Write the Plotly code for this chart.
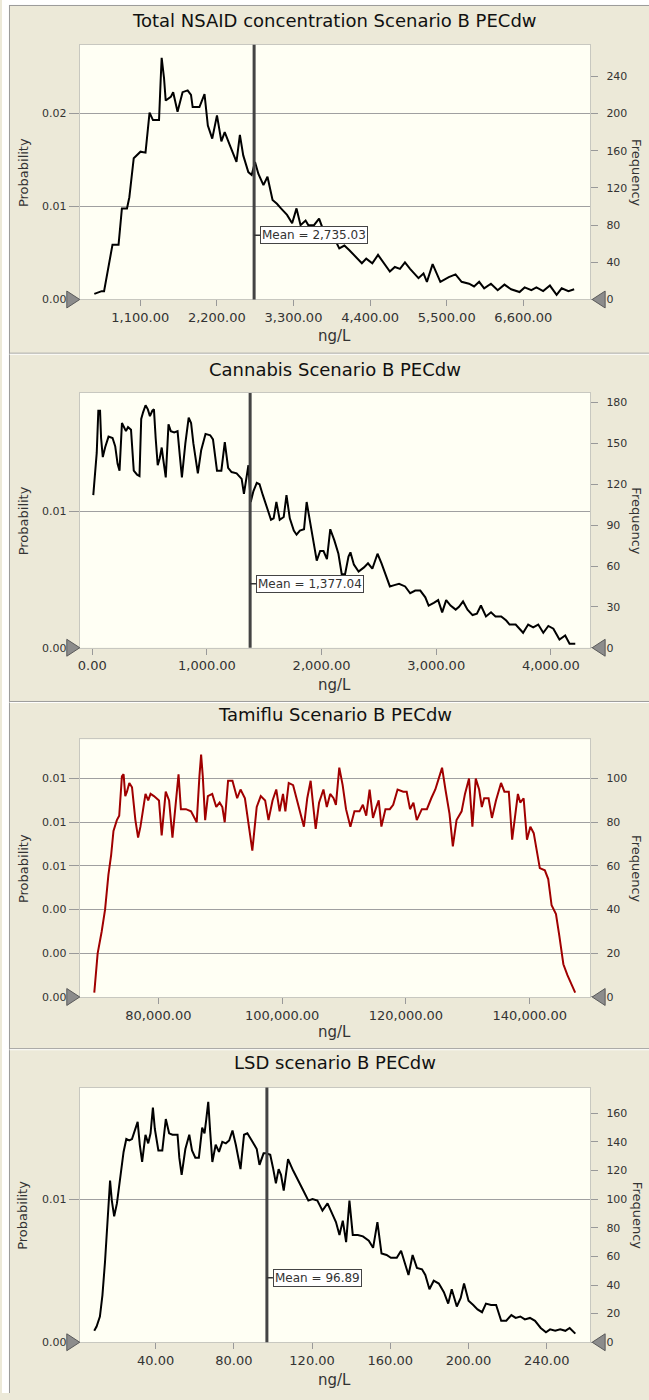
import plotly.graph_objects as go

# ---------------- data ----------------
nsaid_x = [441, 547, 581, 644, 702, 789, 837, 910, 944, 1007, 1104, 1176, 1234, 1283, 1370, 1394, 1408, 1442, 1466, 1539,
           1573, 1636, 1708, 1781, 1829, 1853, 1950, 2023, 2071, 2134, 2202, 2265, 2313, 2386, 2482, 2531, 2579, 2652, 2700, 2748,
           2797, 2869, 2927, 3000, 3063, 3121, 3208, 3281, 3344, 3402, 3474, 3513, 3595, 3668, 3731, 3789, 3885, 3958, 4031, 4103,
           4200, 4282, 4345, 4432, 4514, 4587, 4684, 4756, 4829, 4901, 4974, 5095, 5167, 5216, 5298, 5409, 5530, 5627, 5714, 5821,
           5893, 5966, 6038, 6135, 6232, 6329, 6425, 6546, 6619, 6716, 6788, 6885, 6982, 7078, 7151, 7248, 7330]
nsaid_freq = [6, 9, 9, 35, 59, 59, 98, 98, 110, 152, 159, 158, 201, 193, 193, 237, 260, 238, 214, 218,
              223, 202, 223, 225, 220, 207, 207, 221, 187, 173, 198, 170, 180, 166, 148, 177, 155, 137, 134, 148,
              135, 123, 132, 107, 103, 98, 91, 82, 98, 80, 85, 80, 80, 87, 74, 67, 66, 55, 58, 53,
              46, 39, 44, 39, 48, 40, 30, 35, 33, 40, 33, 23, 28, 19, 38, 19, 24, 27, 19, 17,
              14, 19, 12, 17, 10, 16, 11, 8, 13, 10, 13, 9, 15, 5, 12, 9, 11]

cannabis_x = [9, 24, 39, 53, 68, 77, 92, 112, 142, 177, 200, 221, 238, 259, 274, 294, 312, 338, 362, 391,
              412, 427, 444, 465, 485, 503, 524, 538, 553, 571, 588, 606, 618, 641, 665, 685, 715, 744, 765, 782,
              812, 841, 862, 882, 921, 950, 988, 1029, 1053, 1088, 1126, 1156, 1185, 1215, 1259, 1303, 1323, 1347, 1362, 1382,
              1406, 1435, 1459, 1488, 1523, 1559, 1582, 1606, 1635, 1670, 1694, 1723, 1758, 1782, 1811, 1847, 1870, 1905, 1941, 1958,
              1988, 2017, 2047, 2076, 2111, 2147, 2176, 2205, 2235, 2252, 2282, 2323, 2370, 2405, 2443, 2488, 2523, 2558, 2596, 2635,
              2676, 2729, 2773, 2817, 2861, 2905, 2934, 2979, 3017, 3052, 3087, 3125, 3170, 3199, 3234, 3273, 3317, 3355, 3390, 3434,
              3478, 3517, 3567, 3611, 3640, 3693, 3758, 3802, 3846, 3890, 3934, 3978, 4022, 4075, 4125, 4163, 4213]
cannabis_freq = [112, 128, 143, 174, 174, 154, 140, 147, 155, 154, 148, 135, 130, 165, 162, 159, 162, 160, 130, 127,
                 126, 168, 173, 178, 175, 170, 174, 175, 154, 134, 139, 147, 139, 125, 164, 159, 158, 159, 140, 125,
                 150, 169, 165, 150, 128, 145, 157, 156, 153, 130, 130, 151, 132, 129, 128, 124, 113, 125, 134, 107,
                 115, 121, 120, 112, 103, 94, 95, 107, 94, 96, 112, 95, 86, 83, 86, 87, 107, 89, 73, 64,
                 71, 71, 65, 87, 79, 69, 54, 54, 67, 70, 61, 56, 59, 62, 58, 69, 62, 54, 45, 46,
                 47, 45, 40, 42, 42, 37, 31, 33, 35, 26, 35, 31, 28, 30, 34, 28, 24, 25, 31, 23,
                 26, 23, 23, 20, 17, 17, 11, 17, 15, 17, 11, 16, 14, 6, 9, 3, 3]

tamiflu_x = [69646, 70190, 70844, 71388, 71933, 72368, 72749, 73294, 73675, 74111,
             74383, 74655, 74927, 75308, 75744, 76288, 76724, 77105, 77486, 77922,
             78358, 78739, 79283, 80100, 80536, 81189, 81734, 82278, 82550, 83258,
             83639, 84456, 85273, 86198, 86634, 86906, 87179, 87560, 87995, 88703,
             89357, 89901, 90337, 90718, 91262, 91970, 92733, 93277, 93985, 94529,
             95183, 95891, 96544, 97252, 97796, 98450, 99049, 99593, 100138, 100519,
             101063, 101771, 102425, 103514, 104058, 104603, 105038, 105419, 105964, 106672,
             107216, 107761, 108305, 108686, 109231, 109775, 110320, 111028, 111681, 112498,
             113042, 113587, 114131, 114676, 115220, 115601, 116037, 116690, 117398, 117943,
             118651, 119576, 120121, 120665, 121210, 121754, 122571, 123388, 124096, 124749,
             125294, 125838, 126383, 127036, 127580, 128179, 128996, 129541, 130194, 130739,
             131283, 131828, 132263, 132644, 133352, 133897, 134550, 135367, 135911, 136619,
             137164, 137708, 138089, 138470, 139015, 139559, 140104, 140648, 141629, 142446,
             142990, 143535, 144243, 144787, 145440, 146094, 146802, 147347]
tamiflu_freq = [2, 20, 30, 40, 56, 65, 76, 81, 83, 101,
                102, 92, 94, 98, 96, 81, 73, 78, 85, 93,
                90, 93, 92, 90, 74, 94, 90, 73, 81, 102,
                86, 86, 85, 80, 101, 111, 101, 81, 92, 93,
                87, 89, 87, 80, 99, 99, 91, 95, 91, 81,
                67, 87, 92, 90, 81, 90, 95, 85, 93, 85,
                98, 97, 90, 78, 91, 99, 87, 77, 89, 95,
                87, 93, 91, 88, 105, 97, 86, 78, 85, 85,
                88, 83, 95, 82, 87, 90, 78, 86, 86, 88,
                95, 94, 94, 86, 89, 81, 86, 86, 91, 95,
                100, 105, 95, 84, 69, 81, 85, 93, 100, 78,
                100, 95, 87, 91, 91, 82, 90, 98, 94, 94,
                72, 84, 93, 89, 91, 72, 78, 75, 59, 58,
                54, 42, 38, 28, 15, 10, 5, 2]

lsd_x = [8.6, 9.8, 11.5, 12.8, 14.1, 15.5, 16.7, 17.6, 18.8, 20.2, 21.9, 23.6, 25, 26.5, 27.9, 29.6, 30.8, 31.9, 33.1, 34.8,
         36.2, 37.4, 38.6, 39.6, 41.4, 43.4, 45.2, 46.9, 48.6, 51.2, 52.1, 53.3, 55.2, 57.2, 58.6, 60.3, 62.1, 63.8, 65, 65.9,
         66.9, 67.9, 69, 70.7, 72.4, 74.1, 75.9, 77.6, 79.3, 81, 83.4, 85.2, 86.9, 89.6, 91.7, 93.1, 95.2, 96.5, 98.6, 100,
         101.5, 102.9, 104.1, 105.5, 107.7, 110.3, 112.7, 115.5, 118.1, 120.2, 122.7, 125.3, 127.9, 130.5, 132.2, 134, 135.7, 137.4, 139.1, 140.8,
         143.4, 146, 149, 151.2, 153.4, 155.5, 158.1, 160.3, 163.3, 165.5, 167.6, 169.3, 171.4, 173.6, 176.2, 177.9, 180, 182.2, 184.8, 187.4,
         189.6, 191.4, 194, 196, 197.7, 200, 202.4, 204.6, 206.9, 208.9, 211.5, 214.1, 216.7, 219.3, 221.9, 224.1, 226.5, 228.8, 231.4, 234,
         236.9, 239.6, 241.7, 244.3, 246.9, 249.5, 251.7, 254.6]
lsd_freq = [8, 11, 18, 33, 56, 84, 113, 99, 88, 97, 116, 133, 142, 141, 142, 149, 154, 138, 126, 145,
            139, 146, 164, 149, 134, 134, 156, 146, 145, 145, 129, 117, 135, 145, 134, 129, 129, 150, 146, 156,
            168, 147, 126, 138, 133, 140, 139, 141, 148, 138, 121, 145, 146, 140, 135, 124, 132, 132, 131, 122,
            111, 121, 117, 106, 128, 120, 114, 106, 99, 100, 99, 92, 97, 89, 84, 75, 85, 70, 99, 75,
            75, 74, 71, 66, 84, 62, 61, 59, 59, 64, 55, 47, 61, 52, 51, 47, 37, 43, 41, 35,
            27, 37, 25, 31, 41, 29, 26, 23, 21, 27, 26, 26, 15, 15, 19, 17, 18, 16, 17, 15,
            10, 7, 9, 8, 9, 8, 10, 6]

titles = ["Total NSAID concentration Scenario B PECdw", "Cannabis Scenario B PECdw",
          "Tamiflu Scenario B PECdw", "LSD scenario B PECdw"]
means = [2735.03, 1377.04, None, 96.89]
mean_labels = ["Mean = 2,735.03", "Mean = 1,377.04", None, "Mean = 96.89"]
mean_label_freq = [69, 47, None, 45]
x_ticks = [[1100, 2200, 3300, 4400, 5500, 6600], [0, 1000, 2000, 3000, 4000],
           [80000, 100000, 120000, 140000], [40, 80, 120, 160, 200, 240]]
freq_ticks = [[0, 40, 80, 120, 160, 200, 240], [0, 30, 60, 90, 120, 150, 180],
              [0, 20, 40, 60, 80, 100], [0, 20, 40, 60, 80, 100, 120, 140, 160]]
prob_ticks = [[0, 0.01, 0.02], [0, 0.01], [0, 0.002, 0.004, 0.006, 0.008, 0.010], [0, 0.01]]
trials = 10000
x_unit = "ng/L"

series = [(nsaid_x, nsaid_freq), (cannabis_x, cannabis_freq), (tamiflu_x, tamiflu_freq), (lsd_x, lsd_freq)]
colors = ["#000000", "#000000", "#A00000", "#000000"]

# ---------------- layout (pixel geometry) ----------------
W, H = 649, 1400
def px(x): return x / W
def py(y): return 1 - y / H

x_ranges = [[232, 7560], [-109, 4343], [67300, 149770], [1.2, 262.2]]
freq_max = [274, 187, 118, 178]
plot_top = [45, 395, 743, 1093]
plot_bot = [301, 651, 1002, 1349]
title_y = [21, 371, 718, 1068]
unit_y = [338, 688, 1037, 1387]
PL, PR = 78, 590
FONT = "DejaVu Sans"
TXT = "#333333"

fig = go.Figure()
layout = {}
shapes = []
annotations = []

def label(text, x, y, size, color=TXT, angle=0):
    return dict(text=text, x=px(x), y=py(y), xref="paper", yref="paper", xanchor="center",
                yanchor="middle", showarrow=False, textangle=angle,
                font=dict(family=FONT, size=size, color=color))

for k in range(4):
    i = k + 1
    sx = "" if i == 1 else str(i)
    xa, yf, yp = "x" + sx, "y" + sx, "y" + str(i + 4)
    xs, ys = series[k]
    # frequency curve on the (base) frequency axis
    fig.add_trace(go.Scatter(x=xs, y=ys, mode="lines", line=dict(color=colors[k], width=2),
                             xaxis=xa, yaxis=yf, showlegend=False, hoverinfo="skip"))
    # empty trace so the overlaid probability axis is registered
    fig.add_trace(go.Scatter(x=[None], y=[None], mode="lines", xaxis=xa, yaxis=yp,
                             showlegend=False, hoverinfo="skip"))
    dom_y = [py(plot_bot[k]), py(plot_top[k])]
    layout["xaxis" + sx] = dict(domain=[px(PL), px(PR)], range=x_ranges[k], anchor=yf,
                                tickvals=x_ticks[k], tickformat=",.2f", ticks="outside", ticklen=6,
                                tickcolor="#999999", showline=True, linecolor="#c8c8c0", mirror=True,
                                showgrid=False, zeroline=False, fixedrange=True,
                                tickfont=dict(family=FONT, size=13, color=TXT))
    layout["yaxis" + sx] = dict(domain=dom_y, range=[0, freq_max[k]], anchor=xa, side="right",
                                tickvals=freq_ticks[k], ticks="outside", ticklen=7, tickcolor="#999999",
                                showgrid=False, zeroline=False, showline=True, linecolor="#c8c8c0",
                                mirror=True, ticklabelstandoff=6, fixedrange=True,
                                tickfont=dict(family=FONT, size=11, color=TXT))
    layout["yaxis" + str(i + 4)] = dict(overlaying=yf, anchor=xa, side="left", domain=dom_y,
                                        range=[0, freq_max[k] / trials],
                                        tickvals=prob_ticks[k], tickformat=".2f", ticks="outside", ticklen=10,
                                        tickcolor="#999999", showgrid=True, gridcolor="#a0a0a0", gridwidth=1,
                                        showline=False, zeroline=False, fixedrange=True,
                                        tickfont=dict(family=FONT, size=11, color=TXT))
    # titles
    cx = (PL + PR) / 2
    cy = (plot_top[k] + plot_bot[k]) / 2
    annotations.append(label(titles[k], cx, title_y[k], 18, "#111111"))
    annotations.append(label(x_unit, cx, unit_y[k], 15))
    annotations.append(label("Probability", 21, cy, 13, angle=-90))
    annotations.append(label("Frequency", 637, cy, 13, angle=90))
    # mean line and label
    if means[k] is not None:
        shapes.append(dict(type="line", xref=xa, yref=yf + " domain", x0=means[k], x1=means[k], y0=0, y1=1,
                           line=dict(color="#444444", width=3), layer="above"))
        annotations.append(dict(text=mean_labels[k], x=means[k], y=mean_label_freq[k], xref=xa, yref=yf,
                                showarrow=True, ax=6, ay=0, xanchor="left", yanchor="middle", arrowhead=0,
                                arrowwidth=1.5, arrowcolor="#333333", bgcolor="white", bordercolor="#444444",
                                borderwidth=1, borderpad=1, font=dict(family=FONT, size=12, color=TXT)))
    # certainty grabbers (grey triangles)
    yb = plot_bot[k]
    shapes.append(dict(type="path", xref="paper", yref="paper", layer="above",
                       path=f"M {px(65)},{py(yb - 8.5)} L {px(PL)},{py(yb)} L {px(65)},{py(yb + 8.5)} Z",
                       fillcolor="#8c8c8c", line=dict(color="#5a5a5a", width=1)))
    shapes.append(dict(type="path", xref="paper", yref="paper", layer="above",
                       path=f"M {px(605)},{py(yb - 8.5)} L {px(592)},{py(yb)} L {px(605)},{py(yb + 8.5)} Z",
                       fillcolor="#8c8c8c", line=dict(color="#5a5a5a", width=1)))

# window frame: white strip outside, grey borders, panel separators
shapes.append(dict(type="rect", xref="paper", yref="paper", x0=0, x1=px(7), y0=0, y1=1,
                   fillcolor="white", line=dict(width=0), layer="below"))
shapes.append(dict(type="rect", xref="paper", yref="paper", x0=0, x1=1, y0=py(5), y1=1,
                   fillcolor="white", line=dict(width=0), layer="below"))
shapes.append(dict(type="line", xref="paper", yref="paper", x0=px(7.5), x1=px(7.5), y0=0, y1=py(5),
                   line=dict(color="#9a9a9a", width=1)))
shapes.append(dict(type="line", xref="paper", yref="paper", x0=px(7.5), x1=1, y0=py(5.5), y1=py(5.5),
                   line=dict(color="#9a9a9a", width=1)))
for sep in [355, 705, 1054]:
    shapes.append(dict(type="line", xref="paper", yref="paper", x0=px(7.5), x1=1, y0=py(sep), y1=py(sep),
                       line=dict(color="#9a9a9a", width=1)))
    shapes.append(dict(type="line", xref="paper", yref="paper", x0=px(7.5), x1=1, y0=py(sep + 1), y1=py(sep + 1),
                       line=dict(color="#ffffff", width=1)))

fig.update_layout(width=W, height=H, margin=dict(l=0, r=0, t=0, b=0),
                  paper_bgcolor="#ECE9D8", plot_bgcolor="#FFFFF4", hovermode=False,
                  shapes=shapes, annotations=annotations, showlegend=False, **layout)

fig.write_html("out.html", config={"displayModeBar": False, "staticPlot": True},
               post_script="document.body.style.margin='0px';document.body.style.padding='0px';"
                           "document.documentElement.style.overflow='hidden';")
